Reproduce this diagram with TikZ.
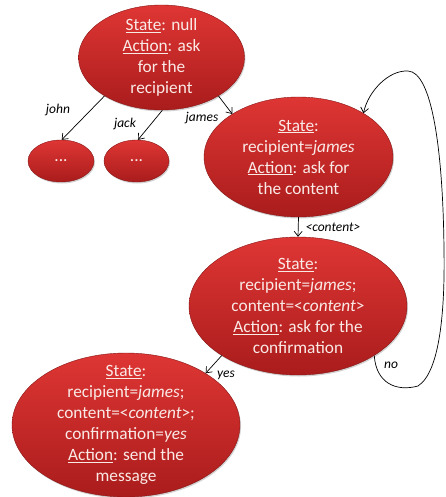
\documentclass[tikz,border=0pt]{standalone}
\usepackage{fontspec}
\setmainfont{Carlito}
\usetikzlibrary{arrows.meta,shapes.geometric,shadows}
\definecolor{rtop}{RGB}{222,54,52}
\definecolor{rbot}{RGB}{170,28,28}
\definecolor{rtxt}{RGB}{250,234,230}
\tikzset{
  state/.style={ellipse, inner sep=0pt, top color=rtop, bottom color=rbot,
    draw=rbot!80!black, line width=0.4pt,
    drop shadow={shadow xshift=1pt, shadow yshift=-1.5pt, opacity=0.35}},
  stxt/.style={text=rtxt, align=center, inner sep=0pt,
    font=\fontsize{17.3}{21}\selectfont},
  conn/.style={draw=black, line width=0.7pt, -{Straight Barb[length=5pt,width=8pt]}},
  lbl/.style={font=\fontsize{13.5}{15}\selectfont\itshape, text=black, inner sep=0pt},
}
\newcommand{\ul}[1]{\underline{#1}}
\begin{document}
\begin{tikzpicture}[x=1pt,y=-1pt]
\useasboundingbox (0,0) rectangle (446,497);
\fill[white] (0,0) rectangle (446,497);

\node[state, minimum width=166pt, minimum height=105pt] (e1) at (161.5,57.5) {};
\node[stxt] (t1) at (e1.center) {\ul{State}: null\\ \ul{Action}: ask\\ for the\\ recipient};
\node[state, minimum width=66pt, minimum height=42pt] (s1) at (61,161) {};
\node[stxt] (ts1) at (s1.center) {...};
\node[state, minimum width=65pt, minimum height=42pt] (s2) at (136.5,161) {};
\node[stxt] (ts2) at (s2.center) {...};
\node[state, minimum width=189pt, minimum height=120pt] (e2) at (298.5,157) {};
\node[stxt] (t2) at (e2.center) {\ul{State}:\\ recipient=\textit{james}\\ \ul{Action}: ask for\\ the content};
\node[state, minimum width=218pt, minimum height=138pt] (e3) at (298,306) {};
\node[stxt] (t3) at (e3.center) {\ul{State}:\\ recipient=\textit{james};\\ content=<\textit{content}>\\ \ul{Action}: ask for the\\ confirmation};
\node[state, minimum width=228pt, minimum height=144pt] (e4) at (126,425) {};
\node[stxt] (t4) at (e4.center) {\ul{State}:\\ recipient=\textit{james};\\ content=<\textit{content}>;\\ confirmation=\textit{yes}\\ \ul{Action}: send the\\ message};

\draw[conn] (e1.-146) -- (s1.88);
\draw[conn] (e1.-89) -- (s2.86);
\draw[conn] (e1.-34) -- (e2.147);
\draw[conn] (e2.south) -- (e3.north);
\draw[conn] (e3.-147) -- (e4.33);
\draw[conn] (e3.-33) .. controls (376,383) and (396,392) .. (418,386)
  .. controls (440,372) and (445,310) .. (444,250)
  .. controls (443,150) and (432,72) .. (408,71)
  .. controls (388,70) and (368,92) .. (e2.34);

\node[lbl] (lj) at (58,110) {john};
\node[lbl] (lk) at (125,124) {jack};
\node[lbl] (lm) at (202,118) {james};
\node[lbl] (lc) at (333,227) {<content>};
\node[lbl] (ly) at (226,375) {yes};
\node[lbl] (ln) at (391,365) {no};
\end{tikzpicture}
\end{document}
